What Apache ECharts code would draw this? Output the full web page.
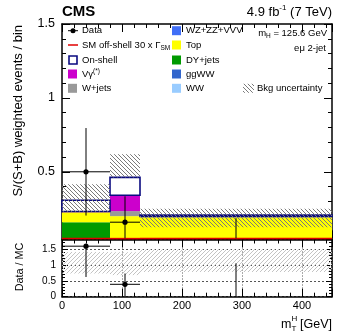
<!DOCTYPE html>
<html>
<head>
<meta charset="utf-8">
<script src="https://cdn.jsdelivr.net/npm/echarts@6/dist/echarts.min.js"></script>
<style>
  html, body { margin: 0; padding: 0; background: #fff; }
  #chart { width: 349px; height: 333px; }
</style>
</head>
<body>
<div id="chart"></div>
<script>
// bins of m_T^H [GeV]
var binLo = [0, 80, 130];
var binHi = [80, 130, 450];
var binMid = [40, 105, 290];

// stacked backgrounds, bottom -> top
var wwVals   = [0.030, 0.030, 0.030];
var ggwwVals = [0.010, 0.010, 0.010];
var dyVals   = [0.119, 0.000, 0.003];
var topVals  = [0.068, 0.160, 0.150];
var vzVals   = [0.000, 0.000, 0.000];
var wjVals   = [0.000, 0.034, 0.005];
var vgVals   = [0.004, 0.107, 0.000];
var onShellVals = [0.076, 0.121, 0.010];
var offShellVals = [0.048, 0.048, 0.048];

// bkg uncertainty band (main panel)
var bandLo = [0.230, 0.462, 0.125];
var bandHi = [0.415, 0.619, 0.250];

// data with errors
var dataY  = [0.500, 0.159, 0.000];
var dataLo = [0.204, 0.000, 0.000];
var dataHi = [0.796, 0.334, 0.186];

// ratio panel
var ratioY  = [1.59, 0.39, 0.00];
var ratioLo = [0.62, 0.00, 0.00];
var ratioHi = [1.59, 0.73, 1.05];
var ratioBandLo = [0.73, 0.68, 0.78];
var ratioBandHi = [1.41, 1.40, 1.50];

var FONT = '"Liberation Sans", Arial, sans-serif';

/*斜线填充*/
function hatch(color, dir, step) {
  var c = document.createElement('canvas');
  c.width = c.height = step;
  var g = c.getContext('2d');
  g.strokeStyle = color;
  g.lineWidth = 1;
  g.beginPath();
  if (dir > 0) {
    g.moveTo(0, step); g.lineTo(step, 0);
    g.moveTo(-1, 1); g.lineTo(1, -1);
    g.moveTo(step - 1, step + 1); g.lineTo(step + 1, step - 1);
  } else {
    g.moveTo(0, 0); g.lineTo(step, step);
    g.moveTo(step - 1, -1); g.lineTo(step + 1, 1);
    g.moveTo(-1, step - 1); g.lineTo(1, step + 1);
  }
  g.stroke();
  return { image: c, repeat: 'repeat' };
}
var mainHatch = hatch('#7a7a7a', -1, 4);
var ratioHatch = hatch('#c4c4c4', 1, 4);

function clipRect(x0, y0, x1, y1, cs) {
  return echarts.graphic.clipRectByRect(
    { x: Math.min(x0, x1), y: Math.min(y0, y1), width: Math.abs(x1 - x0), height: Math.abs(y1 - y0) },
    { x: cs.x, y: cs.y, width: cs.width, height: cs.height });
}

/*直方图一个bin*/
function rectSeries(name, items, style, gi) {
  return {
    name: name,
    type: 'custom',
    xAxisIndex: gi * 4,
    yAxisIndex: gi * 4,
    data: items,
    renderItem: function (params, api) {
      var y0 = api.value(2), y1 = api.value(3);
      if (y1 - y0 <= 0) return;
      var p0 = api.coord([api.value(0), y1]);
      var p1 = api.coord([api.value(1), y0]);
      var r = clipRect(p0[0], p0[1], p1[0], p1[1], params.coordSys);
      if (!r) return;
      return { type: 'rect', shape: r, style: style };
    }
  };
}

function stackItems(parts, idx) {
  var out = [];
  for (var i = 0; i < binLo.length; i++) {
    var base = 0;
    for (var k = 0; k < idx; k++) base += parts[k][i];
    out.push([binLo[i], binHi[i], base, base + parts[idx][i]]);
  }
  return out;
}

var stackParts = [wwVals, ggwwVals, dyVals, topVals, vzVals, wjVals, vgVals, onShellVals];
var stackStyles = [
  { fill: '#99ccff' },
  { fill: '#3366cc' },
  { fill: '#009a00' },
  { fill: '#ffff00' },
  { fill: '#3f6ef7' },
  { fill: '#999999' },
  { fill: '#cc00cc' },
  { fill: '#ffffff', stroke: '#0a0a80', lineWidth: 1.6 }
];
var stackNames = ['WW', 'ggWW', 'DY+jets', 'Top', 'WZ+ZZ+VVV', 'W+jets', 'Vγ', 'On-shell'];

function bandItems(lo, hi) {
  return binLo.map(function (x, i) { return [binLo[i], binHi[i], lo[i], hi[i]]; });
}

/*数据点+误差棒*/
function pointSeries(name, ys, los, his, gi) {
  var items = binMid.map(function (x, i) { return [x, binLo[i], binHi[i], ys[i], los[i], his[i]]; });
  return {
    name: name,
    type: 'custom',
    xAxisIndex: gi * 4,
    yAxisIndex: gi * 4,
    data: items,
    z: 5,
    renderItem: function (params, api) {
      var cs = params.coordSys;
      var top = cs.y, bot = cs.y + cs.height;
      var c = api.coord([api.value(0), api.value(3)]);
      var l = api.coord([api.value(1), api.value(3)]);
      var r = api.coord([api.value(2), api.value(3)]);
      var lo = api.coord([api.value(0), api.value(4)]);
      var hi = api.coord([api.value(0), api.value(5)]);
      var kids = [];
      var ya = Math.max(top, Math.min(bot, hi[1]));
      var yb = Math.max(top, Math.min(bot, lo[1]));
      if (yb - ya > 0.5) {
        kids.push({ type: 'line', shape: { x1: c[0], y1: ya, x2: c[0], y2: yb }, style: { stroke: '#000', lineWidth: 1 } });
      }
      if (c[1] > top && c[1] < bot - 0.5) {
        kids.push({ type: 'line', shape: { x1: l[0], y1: c[1], x2: r[0], y2: c[1] }, style: { stroke: '#000', lineWidth: 1 } });
        kids.push({ type: 'circle', shape: { cx: c[0], cy: c[1], r: 2.6 }, style: { fill: '#000' } });
      }
      return { type: 'group', children: kids };
    }
  };
}

function offShellSeries() {
  return {
    name: 'SM off-shell',
    type: 'custom',
    xAxisIndex: 0,
    yAxisIndex: 0,
    z: 4,
    data: binLo.map(function (x, i) { return [binLo[i], binHi[i], offShellVals[i]]; }),
    renderItem: function (params, api) {
      var a = api.coord([api.value(0), api.value(2)]);
      var b = api.coord([api.value(1), api.value(2)]);
      return { type: 'line', shape: { x1: a[0], y1: a[1], x2: b[0], y2: b[1] }, style: { stroke: '#e00000', lineWidth: 1.5 } };
    }
  };
}

/*坐标轴*/
function axis(o) {
  var base = {
    axisLine: { show: o.line !== false, onZero: false, lineStyle: { color: '#000', width: 1.5 } },
    axisTick: { show: true, inside: true, length: o.tick, lineStyle: { color: '#000', width: 1 } },
    axisLabel: { show: false },
    splitLine: { show: false }
  };
  for (var k in o) {
    if (k !== 'line' && k !== 'tick') base[k] = o[k];
  }
  return base;
}

function xAxes(gi, labels) {
  var list = [
    axis({ gridIndex: gi, type: 'value', position: 'bottom', min: 0, max: 450, interval: 20, tick: 4,
      axisLabel: labels ? {
        show: true, showMaxLabel: false, margin: 4, color: '#000', fontSize: 11, fontFamily: FONT,
        formatter: function (v) { return (v % 100 === 0 && v < 450) ? String(v) : ''; }
      } : { show: false } }),
    axis({ gridIndex: gi, type: 'value', position: 'bottom', min: 0, max: 450, interval: 100, tick: 8, line: false,
      splitLine: labels ? { show: true, lineStyle: { color: '#555', width: 1, type: [1, 2] } } : { show: false } }),
    axis({ gridIndex: gi, type: 'value', position: 'top', min: 0, max: 450, interval: 20, tick: 4 }),
    axis({ gridIndex: gi, type: 'value', position: 'top', min: 0, max: 450, interval: 100, tick: 8, line: false })
  ];
  return list;
}

var mainLabel = function (v) {
  var t = v * 2;
  return (v > 0.2 && Math.abs(t - Math.round(t)) < 1e-6) ? String(Math.round(v * 10) / 10) : '';
};

var yAxesList = [
  axis({ gridIndex: 0, type: 'value', position: 'left', min: 0.05, max: 1.5, splitNumber: 15, tick: 4,
    axisLabel: { show: true, showMaxLabel: true, margin: 7, color: '#000', fontSize: 12.5, fontFamily: FONT, formatter: mainLabel } }),
  axis({ gridIndex: 0, type: 'value', position: 'left', min: 0.05, max: 1.5, splitNumber: 3, tick: 8, line: false }),
  axis({ gridIndex: 0, type: 'value', position: 'right', min: 0.05, max: 1.5, splitNumber: 15, tick: 4 }),
  axis({ gridIndex: 0, type: 'value', position: 'right', min: 0.05, max: 1.5, splitNumber: 3, tick: 8, line: false }),
  axis({ gridIndex: 1, type: 'value', position: 'left', min: 0, max: 1.8, interval: 0.1, tick: 3,
    axisLabel: { show: true, showMaxLabel: false, margin: 6, color: '#000', fontSize: 10, fontFamily: FONT,
      formatter: function (v) { var t = v * 2; return Math.abs(t - Math.round(t)) < 1e-6 ? String(Math.round(v * 10) / 10) : ''; } } }),
  axis({ gridIndex: 1, type: 'value', position: 'left', min: 0, max: 1.8, interval: 0.5, tick: 6, line: false,
    splitLine: { show: true, lineStyle: { color: '#555', width: 1, type: [2, 2] } } }),
  axis({ gridIndex: 1, type: 'value', position: 'right', min: 0, max: 1.8, interval: 0.1, tick: 3 }),
  axis({ gridIndex: 1, type: 'value', position: 'right', min: 0, max: 1.8, interval: 0.5, tick: 6, line: false })
];

var series = [];
for (var s = 0; s < stackParts.length; s++) {
  series.push(rectSeries(stackNames[s], stackItems(stackParts, s), stackStyles[s], 0));
}
series.push(rectSeries('Bkg uncertainty', bandItems(bandLo, bandHi), { fill: mainHatch }, 0));
series.push(offShellSeries());
series.push(pointSeries('Data', dataY, dataLo, dataHi, 0));
series.push(rectSeries('ratio band', bandItems(ratioBandLo, ratioBandHi), { fill: ratioHatch }, 1));
series.push(pointSeries('Data / MC', ratioY, ratioLo, ratioHi, 1));

/*文字和图例*/
var rich = {
  sub: { fontSize: 6.5, fontFamily: FONT, lineHeight: 7, verticalAlign: 'bottom' },
  sup: { fontSize: 6.5, fontFamily: FONT, lineHeight: 7, verticalAlign: 'top' }
};
function txt(x, y, text, size, opt) {
  opt = opt || {};
  var st = {
    text: text, x: 0, y: 0, fill: '#000', fontSize: size, fontFamily: FONT,
    fontWeight: opt.bold ? 'bold' : 'normal', lineHeight: opt.lh || size + 2,
    align: opt.align || 'left', textAlign: opt.align || 'left',
    verticalAlign: 'middle', textVerticalAlign: 'middle', rich: opt.rich
  };
  return { type: 'text', x: x, y: y, rotation: opt.rot || 0, style: st, z: 100 };
}
function box(x, y, w, h, style) {
  return { type: 'rect', shape: { x: x, y: y, width: w, height: h }, style: style, z: 100 };
}

var rows = [30.7, 45, 60, 74, 88.3];
var LS = 9.5;
var graphics = [
  txt(62, 12, 'CMS', 15, { bold: true }),
  txt(332, 12, '4.9 fb{s|-1} (7 TeV)', 13, { align: 'right', lh: 16, rich: { s: { fontSize: 8, fontFamily: FONT, lineHeight: 8, verticalAlign: 'top' } } }),
  txt(18, 25, 'S/(S+B) weighted events / bin', 13, { align: 'right', rot: Math.PI / 2 }),
  txt(20, 267, 'Data / MC', 10.8, { align: 'center', rot: Math.PI / 2 }),
  txt(281, 325, 'm', 12.5),
  txt(291.5, 319, 'H', 8),
  txt(291.5, 329, 'T', 8),
  txt(332, 325, '[GeV]', 12.5, { align: 'right' }),

  // left legend column
  { type: 'line', shape: { x1: 68, y1: rows[0], x2: 78, y2: rows[0] }, style: { stroke: '#000', lineWidth: 1 }, z: 100 },
  { type: 'circle', shape: { cx: 73, cy: rows[0], r: 2.5 }, style: { fill: '#000' }, z: 100 },
  txt(82, rows[0], 'Data', LS),
  { type: 'line', shape: { x1: 68, y1: rows[1], x2: 78, y2: rows[1] }, style: { stroke: '#e00000', lineWidth: 1.5 }, z: 100 },
  txt(82, rows[1], 'SM off-shell 30 x Γ{sub|SM}', LS, { lh: 13, rich: rich }),
  box(69, rows[2] - 4, 8, 8, { fill: '#fff', stroke: '#0a0a80', lineWidth: 1.6 }),
  txt(82, rows[2], 'On-shell', LS),
  box(68, rows[3] - 4.5, 9, 9, { fill: '#cc00cc' }),
  txt(82, rows[3], 'Vγ{sup|(*)}', LS, { lh: 13, rich: rich }),
  box(68, rows[4] - 4.5, 9, 9, { fill: '#999999' }),
  txt(82, rows[4], 'W+jets', LS),

  // right legend column
  box(172, rows[0] - 4.5, 9, 9, { fill: '#3f6ef7' }),
  txt(186, rows[0], 'WZ+ZZ+VVV', LS),
  box(172, rows[1] - 4.5, 9, 9, { fill: '#ffff00' }),
  txt(186, rows[1], 'Top', LS),
  box(172, rows[2] - 4.5, 9, 9, { fill: '#009a00' }),
  txt(186, rows[2], 'DY+jets', LS),
  box(172, rows[3] - 4.5, 9, 9, { fill: '#3366cc' }),
  txt(186, rows[3], 'ggWW', LS),
  box(172, rows[4] - 4.5, 9, 9, { fill: '#99ccff' }),
  txt(186, rows[4], 'WW', LS),
  box(243, rows[4] - 4.5, 11, 9, { fill: mainHatch }),
  txt(257, rows[4], 'Bkg uncertainty', LS),

  txt(327, 33, 'm{sub|H} = 125.6 GeV', LS, { align: 'right', lh: 13, rich: rich }),
  txt(326, 48, 'eμ 2-jet', LS, { align: 'right' })
];

var chart = echarts.init(document.getElementById('chart'), null, { renderer: 'canvas' });
chart.setOption({
  animation: false,
  backgroundColor: '#fff',
  grid: [
    { left: 62, top: 24, width: 270, height: 214.3, containLabel: false },
    { left: 62, top: 239.5, width: 270, height: 57.2, containLabel: false }
  ],
  xAxis: xAxes(0, false).concat(xAxes(1, true)),
  yAxis: yAxesList,
  series: series,
  graphic: graphics
});
</script>
</body>
</html>
